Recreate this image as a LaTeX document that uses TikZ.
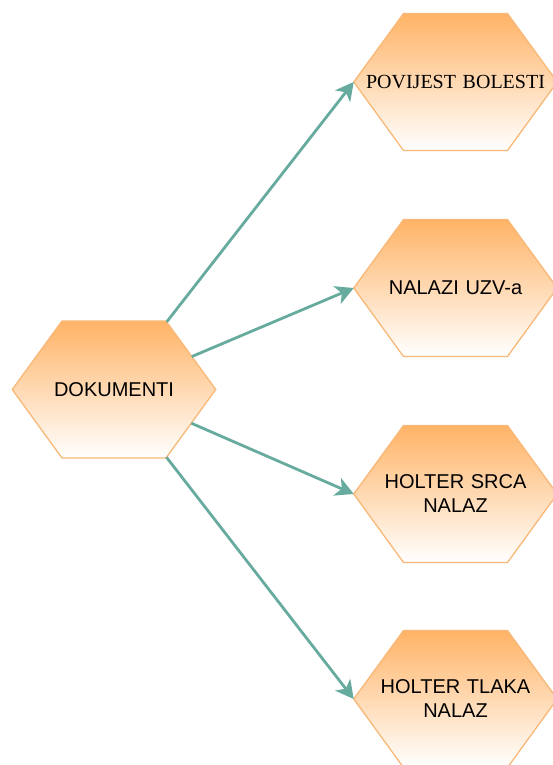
\documentclass[tikz,border=0pt]{standalone}
\usepackage{fontspec}
\setmainfont{Liberation Sans}
\newfontfamily\timesfont{Liberation Serif}
\usepackage{tikz}
\usetikzlibrary{shapes.symbols,arrows.meta}

\definecolor{hexorange}{HTML}{FFB366}
\definecolor{hexline}{HTML}{F7B878}
\definecolor{arrowteal}{HTML}{67AB9F}

\begin{document}
\begin{tikzpicture}[x=1pt,y=1pt,
  hexbox/.style={signal, signal to=west and east, signal pointer angle=108,
    text width=104pt, minimum height=137pt, inner sep=0pt, outer sep=0pt,
    draw=hexline, line width=1.3pt, top color=hexorange, bottom color=white,
    align=center, font=\fontsize{20}{24}\selectfont},
  link/.style={draw=arrowteal, line width=2.8pt,
    -{Stealth[length=18pt 0,width=19pt 0,inset=5pt 0]}}]
\useasboundingbox (0,0) rectangle (552,-765);

% main node on the left
\node[hexbox] (dokumenti) at (114,-389.5) {\makebox[0pt]{DOKUMENTI}};

% documents on the right
\node[hexbox, font=\timesfont\fontsize{20}{24}\selectfont] (povijest) at (455.5,-82) {\makebox[0pt]{POVIJEST BOLESTI}};
\node[hexbox] (uzv) at (455.5,-288) {\makebox[0pt]{NALAZI UZV-a}};
\node[hexbox] (srca) at (455.5,-494) {\makebox[0pt]{HOLTER SRCA}\\NALAZ};
\node[hexbox] (tlaka) at (455.5,-699) {\makebox[0pt]{HOLTER TLAKA}\\NALAZ};

% arrows
\draw[link] (dokumenti) -- (povijest.west);
\draw[link] (dokumenti) -- (uzv.west);
\draw[link] (dokumenti) -- (srca.west);
\draw[link] (dokumenti) -- (tlaka.west);

\end{tikzpicture}
\end{document}
